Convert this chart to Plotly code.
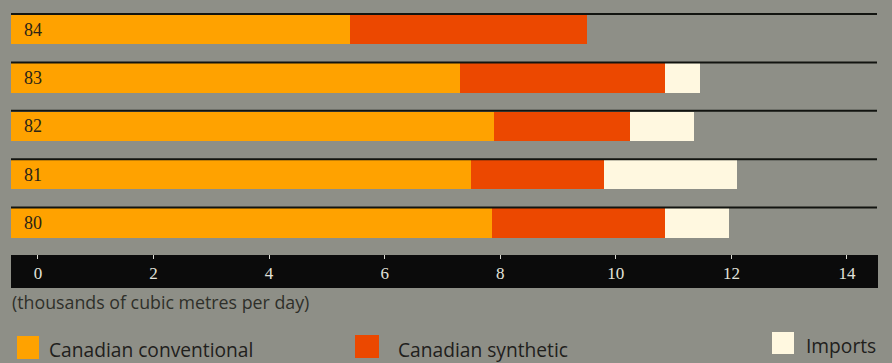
import plotly.graph_objects as go

# Crude oil supply by source, thousands of cubic metres per day
years = ["80", "81", "82", "83", "84"]
conventional = [7.85, 7.5, 7.9, 7.3, 5.4]
synthetic = [3.0, 2.3, 2.35, 3.55, 4.1]
imports = [1.1, 2.3, 1.1, 0.6, 0.0]
x_ticks = [0, 2, 4, 6, 8, 10, 12, 14]

# Layout constants
W, H = 892, 363
ML, MR, MT, MB = 11, 15, 0, 109
PW, PH = W - ML - MR, H - MT - MB
X_LEFT, X_RIGHT = -0.467, 14.52      # panel starts a little left of the zero tick
BAR_W = 0.61
Y_LOW, Y_HIGH = -0.64, 4.61

BG = "#8e8f87"
C_CONV = "#ffa200"
C_SYN = "#ec4800"
C_IMP = "#fff8e0"

ypos = list(range(len(years)))
conv_end = conventional
syn_end = [c + s for c, s in zip(conventional, synthetic)]

fig = go.Figure()
fig.add_trace(go.Bar(
    y=ypos, x=[c - X_LEFT for c in conventional], base=[X_LEFT] * len(years),
    orientation="h", width=BAR_W, marker=dict(color=C_CONV, line=dict(width=0)),
    name="Canadian conventional", hoverinfo="skip"))
fig.add_trace(go.Bar(
    y=ypos, x=synthetic, base=conv_end,
    orientation="h", width=BAR_W, marker=dict(color=C_SYN, line=dict(width=0)),
    name="Canadian synthetic", hoverinfo="skip"))
fig.add_trace(go.Bar(
    y=ypos, x=imports, base=syn_end,
    orientation="h", width=BAR_W, marker=dict(color=C_IMP, line=dict(width=0)),
    name="Imports", hoverinfo="skip"))

shapes = []
annotations = []
# rule along the top of each bar, year label inside the bar
for y, yr in zip(ypos, years):
    shapes.append(dict(type="line", xref="paper", yref="y", x0=0, x1=1,
                       y0=y + BAR_W / 2 + 0.015, y1=y + BAR_W / 2 + 0.015,
                       line=dict(color="#121410", width=2), layer="above"))
    annotations.append(dict(xref="paper", yref="y", x=11 / (W - ML - MR), y=y,
                            xanchor="left", yanchor="middle", showarrow=False,
                            text=yr,
                            font=dict(family="Liberation Serif", size=18, color="#2a2416")))


def px_x(px):
    return (px - ML) / PW


def px_y(py):
    return (MT + PH - py) / PH


# black scale band under the bars
shapes.append(dict(type="rect", xref="paper", yref="paper",
                   x0=px_x(11), x1=px_x(878), y0=px_y(288), y1=px_y(255),
                   fillcolor="#0b0b0b", line=dict(width=0), layer="below"))

# legend swatches
legend_items = [
    ("Canadian conventional", C_CONV, 17, 39, 336, 359, 48, 349),
    ("Canadian synthetic", C_SYN, 355, 379, 335, 358, 397, 349),
    ("Imports", C_IMP, 772, 794, 332, 354, 805, 345),
]
for label, col, x0, x1, y0, y1, tx, ty in legend_items:
    shapes.append(dict(type="rect", xref="paper", yref="paper",
                       x0=px_x(x0), x1=px_x(x1), y0=px_y(y1), y1=px_y(y0),
                       fillcolor=col, line=dict(width=0)))
    annotations.append(dict(xref="paper", yref="paper", x=px_x(tx), y=px_y(ty),
                            xanchor="left", yanchor="middle", showarrow=False,
                            text=label, borderpad=0,
                            font=dict(family="Open Sans", size=19.2, color="#1f201c")))

annotations.append(dict(xref="paper", yref="paper", x=px_x(10), y=px_y(302),
                        xanchor="left", yanchor="middle", showarrow=False,
                        text="(thousands of cubic metres per day)",
                        font=dict(family="Open Sans", size=17.8, color="#2e2f2a")))

fig.update_layout(
    width=W, height=H,
    margin=dict(l=ML, r=MR, t=MT, b=MB, pad=0),
    paper_bgcolor=BG, plot_bgcolor=BG,
    barmode="overlay", bargap=0,
    showlegend=False,
    shapes=shapes, annotations=annotations,
    xaxis=dict(range=[X_LEFT, X_RIGHT], tickvals=x_ticks,
               ticktext=[str(t) for t in x_ticks],
               showgrid=False, zeroline=False, showline=False,
               ticks="outside", ticklen=4, tickwidth=1, tickcolor="#d8d8d0",
               tickfont=dict(family="Liberation Serif", size=17, color="#e2e2da"),
               fixedrange=True),
    yaxis=dict(range=[Y_LOW, Y_HIGH], showticklabels=False,
               showgrid=False, zeroline=False, showline=False, ticks="",
               fixedrange=True),
)

fig.write_html("out.html")
